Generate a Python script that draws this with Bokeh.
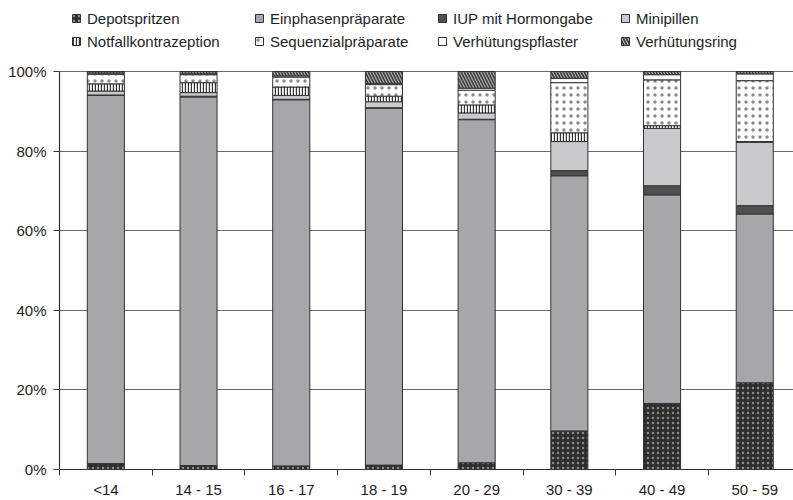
from bokeh.plotting import figure
from bokeh.models import Range1d, FixedTicker, Legend, LegendItem, PrintfTickFormatter
from bokeh.embed import file_html
from bokeh.resources import INLINE
import numpy as np

# ---- data (percent shares per age group) ----
categories = ["<14", "14 - 15", "16 - 17", "18 - 19", "20 - 29", "30 - 39", "40 - 49", "50 - 59"]
depotspritzen = [1.5, 1.0, 0.9, 1.1, 1.7, 9.7, 16.6, 21.8]
einphasen = [92.5, 92.6, 92.0, 89.7, 86.2, 64.1, 52.4, 42.4]
iup_hormon = [0.1, 0.2, 0.1, 0.1, 0.1, 1.3, 2.3, 2.1]
minipillen = [1.0, 0.9, 1.0, 1.5, 1.6, 7.3, 14.4, 15.9]
notfall = [1.8, 2.5, 2.1, 1.4, 2.0, 2.2, 0.7, 0.2]
sequenzial = [2.4, 2.0, 2.5, 2.9, 3.7, 12.6, 11.5, 15.3]
pflaster = [0.3, 0.2, 0.3, 0.3, 0.5, 1.1, 1.3, 1.7]
ring = [0.4, 0.6, 1.1, 3.0, 4.2, 1.7, 0.8, 0.6]

series_names = ["Depotspritzen", "Einphasenpräparate", "IUP mit Hormongabe", "Minipillen",
                "Notfallkontrazeption", "Sequenzialpräparate", "Verhütungspflaster", "Verhütungsring"]
series_values = [depotspritzen, einphasen, iup_hormon, minipillen, notfall, sequenzial, pflaster, ring]

y_ticks = [0, 20, 40, 60, 80, 100]

# ---- styles ----
styles = [
    dict(fill_color="#2e2e2e", hatch_pattern="dot", hatch_color="#8c8c8c", hatch_scale=5, hatch_weight=0.6),
    dict(fill_color="#a6a7aa"),
    dict(fill_color="#4f4f4f"),
    dict(fill_color="#c9cacc"),
    dict(fill_color="#ffffff", hatch_pattern="vertical_line", hatch_color="#333333", hatch_scale=3, hatch_weight=1.4),
    dict(fill_color="#ffffff", hatch_pattern="dot", hatch_color="#8a8a8a", hatch_scale=7, hatch_weight=0.5),
    dict(fill_color="#ffffff"),
    dict(fill_color="#b4b4b4", hatch_pattern="left_diagonal_line", hatch_color="#3a3a3a", hatch_scale=6, hatch_weight=1.6),
]

FONT = "Liberation Sans"
n = len(categories)
centers = [i + 0.5 for i in range(n)]

W, H = 793, 500
LEFT, BOTTOM = 59, 31
frame_w = W - LEFT
frame_h = H - BOTTOM
cat_px = 92.7
span_px = 398  # pixels from 0% to 100%

p = figure(width=W, height=H, output_backend="svg", toolbar_location=None,
           x_range=Range1d(0, frame_w / cat_px), y_range=Range1d(0, 100 * frame_h / span_px),
           min_border_left=LEFT, min_border_right=0, min_border_top=0, min_border_bottom=BOTTOM)
p.outline_line_color = None
p.background_fill_color = "white"
p.border_fill_color = "white"

bottom = np.zeros(n)
renderers = []
for name, vals, st in zip(series_names, series_values, styles):
    top = bottom + np.array(vals)
    r = p.vbar(x=centers, width=0.4, bottom=list(bottom), top=list(top),
               line_color="#333333", line_width=1, **st)
    renderers.append(r)
    bottom = top

# axes
p.xaxis.ticker = FixedTicker(ticks=centers, minor_ticks=list(range(n + 1)))
p.xaxis.major_label_overrides = {c: lab for c, lab in zip(centers, categories)}
p.xaxis.major_tick_out = 0
p.xaxis.major_tick_in = 0
p.xaxis.minor_tick_out = 6
p.xaxis.minor_tick_in = 0
p.xaxis.minor_tick_line_color = "#333333"
p.xaxis.major_label_standoff = 5

p.yaxis.ticker = FixedTicker(ticks=y_ticks, minor_ticks=[])
p.yaxis.formatter = PrintfTickFormatter(format="%d%%")
p.yaxis.major_tick_out = 6
p.yaxis.major_tick_in = 0
p.yaxis.major_label_standoff = 7
p.yaxis.bounds = (0, 100)

for ax in (p.xaxis[0], p.yaxis[0]):
    ax.axis_line_color = "#333333"
    ax.axis_line_width = 1.2
    ax.major_tick_line_color = "#333333"
    ax.major_label_text_font = FONT
    ax.major_label_text_font_size = "15px"
    ax.major_label_text_color = "#1e1e1e"

p.xgrid.grid_line_color = None
p.ygrid.ticker = FixedTicker(ticks=y_ticks)
p.ygrid.grid_line_color = "#6a6a6a"
p.ygrid.grid_line_width = 1

# legends: four columns of two rows
col_x = [12, 195, 378, 561]
for c in range(4):
    items = [LegendItem(label=series_names[c], renderers=[renderers[c]]),
             LegendItem(label=series_names[c + 4], renderers=[renderers[c + 4]])]
    lg = Legend(items=items, location=(col_x[c], 418), orientation="vertical",
                padding=0, margin=0, spacing=3, label_height=20, glyph_width=10, glyph_height=10,
                label_standoff=6, border_line_color=None, background_fill_alpha=0,
                label_text_font=FONT, label_text_font_size="15px", label_text_color="#1e1e1e")
    p.add_layout(lg, "center")

open("out.html", "w").write(file_html(p, INLINE))
